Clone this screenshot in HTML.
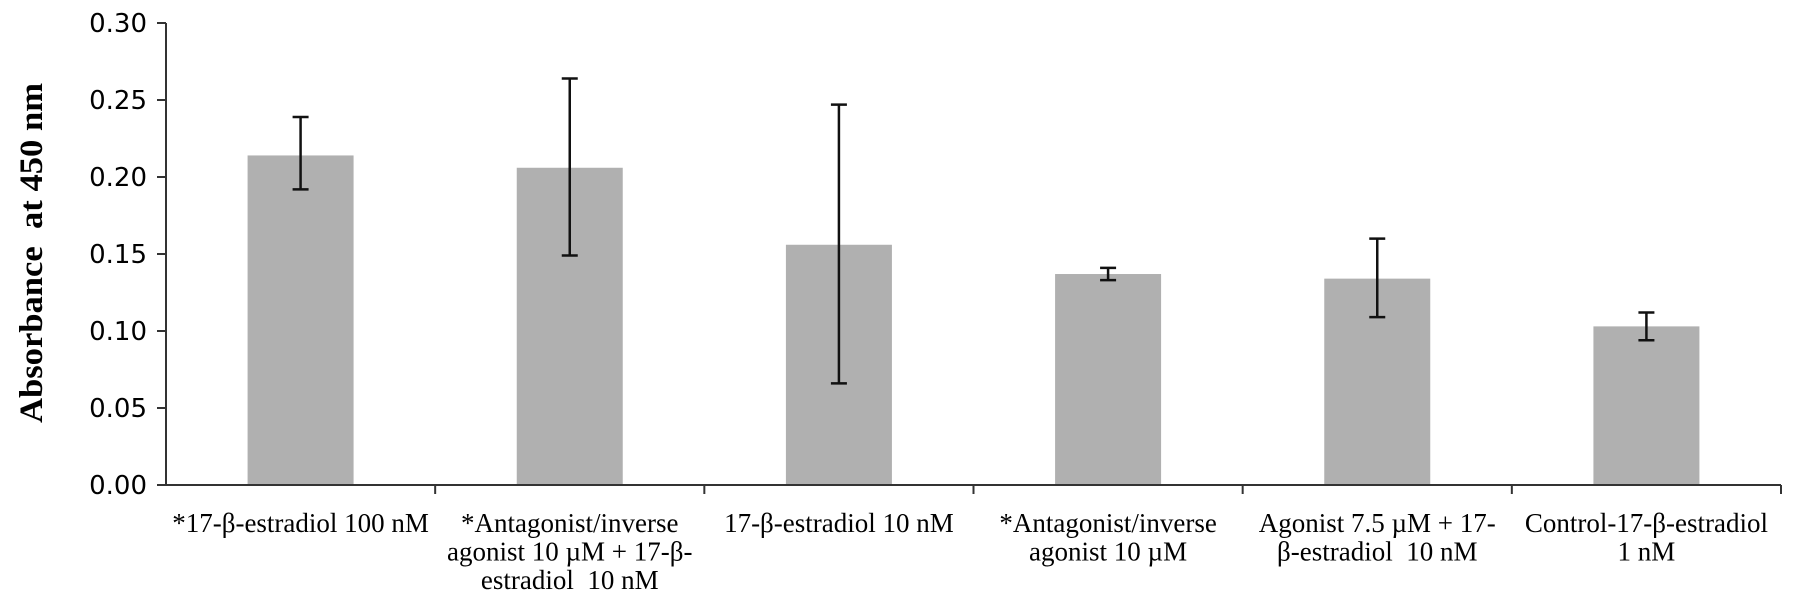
<!DOCTYPE html>
<html><head><meta charset="utf-8"><style>
html,body{margin:0;padding:0;background:#fff;}
svg{display:block;}
</style></head><body>
<svg id="chart" width="1795" height="607" xmlns="http://www.w3.org/2000/svg"></svg>
<script>
const categories = [
  ["*17-\u03B2-estradiol 100 nM"],
  ["*Antagonist/inverse","agonist 10 \u00B5M + 17-\u03B2-","estradiol  10 nM"],
  ["17-\u03B2-estradiol 10 nM"],
  ["*Antagonist/inverse","agonist 10 \u00B5M"],
  ["Agonist 7.5 \u00B5M + 17-","\u03B2-estradiol  10 nM"],
  ["Control-17-\u03B2-estradiol","1 nM"]
];
const values = [0.214, 0.206, 0.156, 0.137, 0.134, 0.103];
const errHigh = [0.239, 0.264, 0.247, 0.141, 0.160, 0.112];
const errLow = [0.192, 0.149, 0.066, 0.133, 0.109, 0.094];
const yTicks = [0, 0.05, 0.10, 0.15, 0.20, 0.25, 0.30];
const yTickLabels = ["0.00","0.05","0.10","0.15","0.20","0.25","0.30"];

const NS="http://www.w3.org/2000/svg";
const svg=document.getElementById('chart');
const x0=166, x1=1781, y0=485, yTop=23, yMax=0.30;
const cw=(x1-x0)/categories.length, bw=106;
const yS=v=>y0-(v/yMax)*(y0-yTop);
const xC=i=>x0+cw*(i+0.5);
function mk(t,a){const e=document.createElementNS(NS,t);for(const k in a)e.setAttribute(k,a[k]);svg.appendChild(e);return e;}

// y axis
let ya=mk('line',{x1:x0,y1:yTop,x2:x0,y2:y0,stroke:'#333','stroke-width':2});


yTicks.forEach((v,i)=>{
  const y=yS(v);
  const t=mk('line',{x1:x0-9,y1:y,x2:x0,y2:y,stroke:'#333','stroke-width':2});
  
  
  const l=mk('text',{x:147,y:y+9,'text-anchor':'end','font-family':'DejaVu Sans, sans-serif','font-size':26,fill:'#000'});
  l.textContent=yTickLabels[i];
  
  
});
// bars
values.forEach((v,i)=>{
  const b=mk('rect',{x:xC(i)-bw/2,y:yS(v),width:bw,height:y0-yS(v),fill:'#b0b0b0'});
  
  
});
// x axis
let xa=mk('line',{x1:x0,y1:y0,x2:x1,y2:y0,stroke:'#333','stroke-width':2});


for(let i=1;i<=categories.length;i++){
  const x=x0+cw*i;
  const t=mk('line',{x1:x,y1:y0,x2:x,y2:y0+9,stroke:'#333','stroke-width':2});
  
  
}
// error bars
values.forEach((v,i)=>{
  const x=xC(i), yh=yS(errHigh[i]), yl=yS(errLow[i]);
  const g=document.createElementNS(NS,'g');svg.appendChild(g);
  
  
  [[x,yh,x,yl],[x-8,yh,x+8,yh],[x-8,yl,x+8,yl]].forEach(c=>{
    const l=document.createElementNS(NS,'line');
    l.setAttribute('x1',c[0]);l.setAttribute('y1',c[1]);l.setAttribute('x2',c[2]);l.setAttribute('y2',c[3]);
    l.setAttribute('stroke','#111');l.setAttribute('stroke-width',2.5);g.appendChild(l);
  });
});
// category labels
categories.forEach((lines,i)=>{
  lines.forEach((s,j)=>{
    const t=mk('text',{x:xC(i),y:532+j*28.5,'text-anchor':'middle','font-family':'Liberation Serif, serif','font-size':27,fill:'#000',style:'white-space:pre'});
    t.textContent=s;
    
    
  });
});
// y title
const yt=mk('text',{x:0,y:0,transform:'translate(42,253) rotate(-90)','text-anchor':'middle','font-family':'Liberation Serif, serif','font-size':33,'font-weight':'bold',fill:'#000',style:'white-space:pre',textLength:340,lengthAdjust:'spacingAndGlyphs'});
yt.textContent='Absorbance  at 450 nm';


</script>
</body></html>
